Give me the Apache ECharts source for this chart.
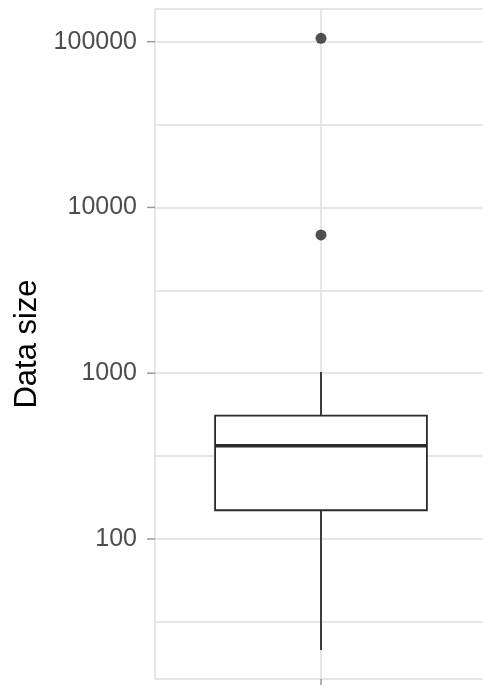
<!DOCTYPE html>
<html>
<head>
<meta charset="utf-8">
<script src="https://cdn.jsdelivr.net/npm/echarts@6/dist/echarts.min.js"></script>
<style>html,body{margin:0;padding:0;background:#fff}#c{width:483px;height:686px}</style>
</head>
<body>
<div id="c"></div>
<script>
// ---- data ----
const categories = [''];
const lowerWhisker = [21.4];
const q1 = [149];
const median = [365];
const q3 = [554];
const upperWhisker = [1016];
const outliers = [104700, 6820];
const majorTicks = [100, 1000, 10000, 100000];
const yRange = [14.3, 157400];

const L = Math.log10;
const boxData = categories.map((c, i) => [i, L(lowerWhisker[i]), L(q1[i]), L(median[i]), L(q3[i]), L(upperWhisker[i])]);
const pointData = outliers.map(v => [0, L(v)]);

const chart = echarts.init(document.getElementById('c'), null, {renderer: 'canvas'});
const FONT = 'Liberation Sans, Arial, Helvetica, sans-serif';

chart.setOption({
  backgroundColor: '#ffffff',
  animation: false,
  grid: {left: 155, width: 332, top: 9, bottom: 7, containLabel: false, outerBoundsMode: 'none'},
  xAxis: [
    {
      type: 'category', data: categories, boundaryGap: true, position: 'bottom',
      axisLine: {show: false},
      axisTick: {show: true, alignWithLabel: true, length: 6, lineStyle: {color: '#999999', width: 1.5}},
      axisLabel: {show: false},
      splitLine: {show: false}
    },
    {
      type: 'value', min: -1, max: 1, interval: 1, position: 'bottom',
      axisLine: {show: false}, axisTick: {show: false}, axisLabel: {show: false},
      splitLine: {show: true, lineStyle: {color: '#dedede', width: 1.5}}
    }
  ],
  yAxis: {
    type: 'value', min: L(yRange[0]), max: L(yRange[1]), splitNumber: 8,
    name: 'Data size', nameLocation: 'middle', nameGap: 108, nameRotate: 90,
    nameTextStyle: {fontSize: 31, color: '#000000', fontFamily: FONT},
    axisLine: {show: false}, axisTick: {show: false},
    axisLabel: {
      margin: 0,
      formatter: function (v) {
        const t = majorTicks.find(m => Math.abs(L(m) - v) < 1e-6);
        return t === undefined ? '' : '{a|' + t + '}{g|}{t|}';
      },
      rich: {
        a: {fontSize: 25, color: '#4d4d4d', fontFamily: FONT},
        g: {width: 10, height: 2},
        t: {width: 8, height: 1.5, backgroundColor: '#999999'}
      }
    },
    splitLine: {show: true, lineStyle: {color: '#dedede', width: 1.5}}
  },
  series: [
    {
      type: 'custom', xAxisIndex: 0, yAxisIndex: 0, data: boxData, z: 3,
      renderItem: function (params, api) {
        const x = api.value(0);
        const pMin = api.coord([x, api.value(1)]);
        const pQ1 = api.coord([x, api.value(2)]);
        const pMed = api.coord([x, api.value(3)]);
        const pQ3 = api.coord([x, api.value(4)]);
        const pMax = api.coord([x, api.value(5)]);
        const bw = api.size([1, 0])[0] * 0.638;
        const cx = pMed[0];
        const stroke = '#2b2b2b';
        return {
          type: 'group',
          children: [
            {type: 'line', shape: {x1: cx, y1: pQ3[1], x2: cx, y2: pMax[1]}, style: {stroke: stroke, lineWidth: 1.8}},
            {type: 'line', shape: {x1: cx, y1: pQ1[1], x2: cx, y2: pMin[1]}, style: {stroke: stroke, lineWidth: 1.8}},
            {type: 'rect', shape: {x: cx - bw / 2, y: pQ3[1], width: bw, height: pQ1[1] - pQ3[1]}, style: {fill: '#ffffff', stroke: stroke, lineWidth: 1.8}},
            {type: 'line', shape: {x1: cx - bw / 2, y1: pMed[1], x2: cx + bw / 2, y2: pMed[1]}, style: {stroke: stroke, lineWidth: 3.4}}
          ]
        };
      }
    },
    {
      type: 'scatter', xAxisIndex: 0, yAxisIndex: 0, data: pointData, z: 4,
      symbol: 'circle', symbolSize: 11, itemStyle: {color: '#262626'}
    }
  ]
});
</script>
</body>
</html>
